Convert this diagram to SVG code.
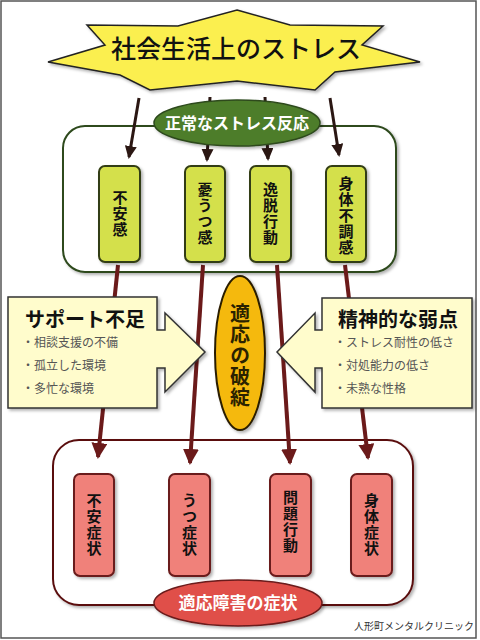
<svg xmlns="http://www.w3.org/2000/svg" width="480" height="640" viewBox="0 0 480 640">
<defs>
<filter id="sh" x="-20%" y="-20%" width="140%" height="140%">
<feDropShadow dx="2" dy="2" stdDeviation="1.5" flood-color="#000" flood-opacity="0.3"/>
</filter>
<marker id="ahd" markerUnits="userSpaceOnUse" markerWidth="13" markerHeight="12" refX="11" refY="6" orient="auto">
<path d="M0,0 L13,6 L0,12 z" fill="#2b1713"/>
</marker>
<marker id="ahr" markerUnits="userSpaceOnUse" markerWidth="16" markerHeight="16" refX="14" refY="8" orient="auto">
<path d="M0,0 L16,8 L0,16 z" fill="#6b1a1a"/>
</marker>
<style>
.jp{font-family:"Noto Sans CJK JP","Noto Sans CJK SC",sans-serif}
.vt{font-family:"Noto Sans CJK JP",sans-serif;font-weight:bold;font-size:15px;fill:#111;text-anchor:middle;writing-mode:vertical-rl;letter-spacing:1px}
.ybox{fill:#d4e04b;stroke:#333d12;stroke-width:2}
.pbox{fill:#f0817a;stroke:#6a1a1a;stroke-width:2}
.call{fill:#fffccc;stroke:#333;stroke-width:1.5}
.bul{font-family:"Noto Sans CJK JP",sans-serif;font-size:12px;fill:#555}
.ttl{font-family:"Noto Sans CJK JP",sans-serif;font-size:20px;font-weight:bold;fill:#111}
.cd{fill:none;stroke:#2b1713;stroke-width:3;marker-end:url(#ahd)}
.cr{fill:none;stroke:#6b1a1a;stroke-width:4;marker-end:url(#ahr)}
</style>
</defs>
<rect x="0" y="0" width="480" height="640" fill="#fff"/>
<rect x="1" y="1" width="475" height="637" fill="none" stroke="#555" stroke-width="1.5"/>

<g id="normal-box">
<rect x="63" y="126" width="333" height="146" rx="22" fill="#fff" stroke="#2d4a1d" stroke-width="2" filter="url(#sh)"/>
</g>
<g id="symptom-box">
<rect x="53" y="440" width="360" height="165" rx="26" fill="#fff" stroke="#5a1010" stroke-width="2" filter="url(#sh)"/>
</g>

<g id="stress-star">
<polygon points="237,10 290,25 383,26 362,45 420,62 335,72 315,90 237,81 150,90 120,75 48,62 105,45 87,25 178,26" fill="#fbef4f" stroke="#222" stroke-width="1.5" filter="url(#sh)"/>
<text x="236" y="58" class="jp" font-size="25" font-weight="500" fill="#111" text-anchor="middle">社会生活上のストレス</text>
</g>

<g id="connectors">
<path class="cd" d="M139,98 L129,157"/>
<path class="cd" d="M210,97 L207,160"/>
<path class="cd" d="M265,97 L268,159"/>
<path class="cd" d="M330,98 L339,155"/>
<path class="cr" d="M118,265 L98,457"/>
<path class="cr" d="M203,265 L190,463"/>
<path class="cr" d="M277,265 L290,463"/>
<path class="cr" d="M345,265 L368,458"/>
</g>

<g id="normal-label">
<ellipse cx="237" cy="123" rx="83" ry="23" fill="#4e7d2a" stroke="#2d4a1d" stroke-width="1.5" filter="url(#sh)"/>
<text x="237" y="129" class="jp" font-size="16" font-weight="bold" fill="#fff" text-anchor="middle">正常なストレス反応</text>
</g>

<g id="anxiety">
<rect class="ybox" x="99" y="166" width="41" height="96" rx="6" filter="url(#sh)"/>
<text class="vt" x="120" y="214">不安感</text>
</g>
<g id="depressed">
<rect class="ybox" x="185" y="166" width="40" height="96" rx="6" filter="url(#sh)"/>
<text class="vt" x="205" y="214">憂うつ感</text>
</g>
<g id="deviant">
<rect class="ybox" x="250" y="166" width="41" height="96" rx="6" filter="url(#sh)"/>
<text class="vt" x="270.5" y="214">逸脱行動</text>
</g>
<g id="physical">
<rect class="ybox" x="326" y="166" width="40" height="96" rx="6" filter="url(#sh)"/>
<text class="vt" x="346" y="216">身体不調感</text>
</g>

<g id="support-lack">
<path class="call" d="M8,297 H157 V330 H165 V313 L205,352 L165,392 V368 H157 V408 H8 Z" filter="url(#sh)"/>
<text x="25" y="327" class="ttl">サポート不足</text>
<text x="22" y="347" class="bul">・相談支援の不備</text>
<text x="22" y="370" class="bul">・孤立した環境</text>
<text x="22" y="393" class="bul">・多忙な環境</text>
</g>

<g id="mental-weakness">
<path class="call" d="M472,298 H322 V330 H315 V313 L277,352 L315,392 V368 H322 V408 H472 Z" filter="url(#sh)"/>
<text x="338" y="327" class="ttl">精神的な弱点</text>
<text x="334" y="347" class="bul">・ストレス耐性の低さ</text>
<text x="334" y="370" class="bul">・対処能力の低さ</text>
<text x="334" y="393" class="bul">・未熟な性格</text>
</g>

<g id="breakdown">
<ellipse cx="240" cy="353" rx="25" ry="77" fill="#f5b90a" stroke="#2a1f00" stroke-width="2" filter="url(#sh)"/>
<text x="240" y="356" font-family="Noto Sans CJK JP, sans-serif" font-size="20" font-weight="bold" fill="#2a2200" text-anchor="middle" writing-mode="vertical-rl" letter-spacing="1">適応の破綻</text>
</g>

<g id="anxiety-sym">
<rect class="pbox" x="74" y="474" width="40" height="102" rx="6" filter="url(#sh)"/>
<text class="vt" x="94" y="525">不安症状</text>
</g>
<g id="depression-sym">
<rect class="pbox" x="169" y="474" width="41" height="102" rx="6" filter="url(#sh)"/>
<text class="vt" x="189.5" y="525">うつ症状</text>
</g>
<g id="problem-behavior">
<rect class="pbox" x="270" y="474" width="41" height="102" rx="6" filter="url(#sh)"/>
<text class="vt" x="290.5" y="522">問題行動</text>
</g>
<g id="physical-sym">
<rect class="pbox" x="351" y="474" width="41" height="102" rx="6" filter="url(#sh)"/>
<text class="vt" x="371.5" y="525">身体症状</text>
</g>

<g id="adjustment-label">
<ellipse cx="238" cy="603" rx="84" ry="23" fill="#e0504a" stroke="#6a1a1a" stroke-width="1.5" filter="url(#sh)"/>
<text x="238" y="609" class="jp" font-size="17" font-weight="bold" fill="#fff" text-anchor="middle">適応障害の症状</text>
</g>

<text x="474" y="630" class="jp" font-size="10" fill="#333" text-anchor="end">人形町メンタルクリニック</text>
</svg>
